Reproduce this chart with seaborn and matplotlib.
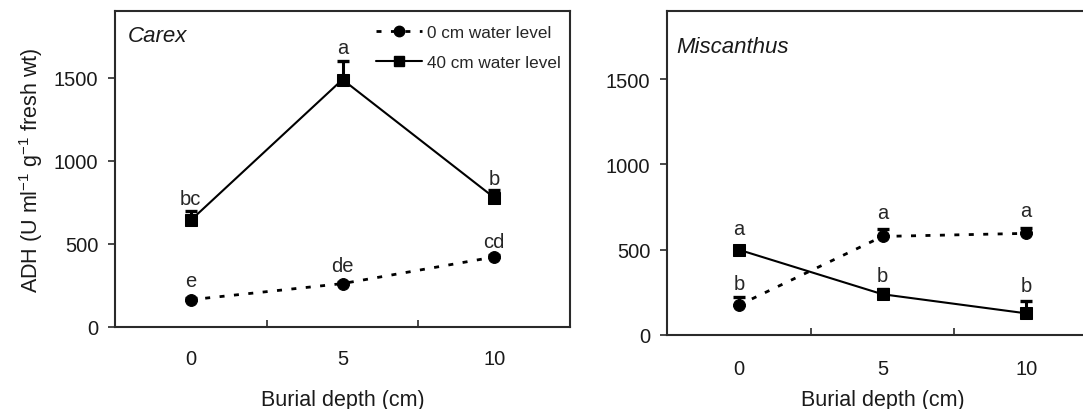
import numpy as np
import pandas as pd
import matplotlib
matplotlib.use("Agg")
import matplotlib.pyplot as plt
import seaborn as sns
from matplotlib.lines import Line2D

sns.set_style("ticks")
plt.rcParams['font.family'] = ['Liberation Sans', 'DejaVu Sans']
plt.rcParams['mathtext.fontset'] = 'custom'
plt.rcParams['mathtext.rm'] = 'Liberation Sans'
plt.rcParams['mathtext.it'] = 'Liberation Sans:italic'

# ---- data ----
depth = [0, 5, 10]
series_names = ["0 cm water level", "40 cm water level"]

carex_0cm = [164, 261, 421]
carex_0cm_err = [12, 12, 14]
carex_40cm = [642, 1488, 778]
carex_40cm_err = [56, 110, 46]
carex_letters_0cm = ["e", "de", "cd"]
carex_letters_40cm = ["bc", "a", "b"]

misc_0cm = [175, 578, 596]
misc_0cm_err = [49, 44, 29]
misc_40cm = [500, 239, 127]
misc_40cm_err = [24, 30, 73]
misc_letters_0cm = ["b", "a", "a"]
misc_letters_40cm = ["a", "b", "b"]

yticks = [0, 500, 1000, 1500]
xticks = [0, 5, 10]

fig = plt.figure(figsize=(10.83, 4.10), dpi=100)
ax1 = fig.add_axes([115/1083, 82/410, 455/1083, 316/410])
ax2 = fig.add_axes([667/1083, 74/410, 431/1083, 324/410])

dash = (0, (1.8, 3.4))
SPINE = "#2a2a2a"


def draw(ax, v0, e0, v40, e40, l0, l40, title, title_xy, off0, off40,
         xlabel_y, xpad):
    df = pd.DataFrame({
        "depth": depth * 2,
        "adh": v0 + v40,
        "series": [series_names[0]] * 3 + [series_names[1]] * 3,
    })
    sns.lineplot(data=df[df.series == series_names[0]], x="depth", y="adh", ax=ax,
                 color="black", linestyle=":", marker="o", markersize=8.5,
                 markeredgecolor="black", linewidth=2.0, legend=False)
    sns.lineplot(data=df[df.series == series_names[1]], x="depth", y="adh", ax=ax,
                 color="black", linestyle="-", marker="s", markersize=8.5,
                 markeredgecolor="black", linewidth=1.5, legend=False)
    ax.lines[0].set_linestyle(dash)
    for v, e in ((v0, e0), (v40, e40)):
        ax.errorbar(depth, v, yerr=[np.zeros(3), e], fmt="none", ecolor="black",
                    elinewidth=2.2, capsize=4.5, capthick=2.4, zorder=1)
    for x, y, e, t, o in zip(depth, v0, e0, l0, off0):
        ax.text(x, y + e + o, t, ha="center", va="baseline", fontsize=14.5)
    for x, y, e, t, o in zip(depth, v40, e40, l40, off40):
        ax.text(x, y + e + o, t, ha="center", va="baseline", fontsize=14.5)
    ax.set_xlim(-2.5, 12.5)
    ax.set_ylim(0, 1900)
    ax.set_xticks(xticks)
    ax.set_yticks(yticks)
    ax.set_xticks([2.5, 7.5], minor=True)
    ax.tick_params(axis="x", which="major", length=0, pad=xpad, labelsize=14.5,
                   colors="#1a1a1a")
    ax.tick_params(axis="x", which="minor", direction="in", length=5, width=1.2,
                   color=SPINE)
    ax.tick_params(axis="y", which="major", direction="out", length=5, width=1.2,
                   labelsize=14.5, pad=7, color=SPINE, labelcolor="#1a1a1a")
    for s in ax.spines.values():
        s.set_linewidth(1.5)
        s.set_color(SPINE)
    ax.set_xlabel("Burial depth (cm)", fontsize=15.5, color="#1a1a1a")
    ax.xaxis.set_label_coords(0.5, xlabel_y)
    ax.set_ylabel("")
    ax.text(title_xy[0], title_xy[1], title, transform=ax.transAxes, style="italic",
            fontsize=16, ha="left", va="top", color="#1a1a1a")


draw(ax1, carex_0cm, carex_0cm_err, carex_40cm, carex_40cm_err,
     carex_letters_0cm, carex_letters_40cm, "Carex", (0.029, 0.955),
     [71, 64, 47], [43, 47, 37], -0.196, 16)
draw(ax2, misc_0cm, misc_0cm_err, misc_40cm, misc_40cm_err,
     misc_letters_0cm, misc_letters_40cm, "Miscanthus", (0.022, 0.922),
     [45, 63, 75], [68, 49, 59], -0.167, 17.5)

ax1.set_ylabel(r"ADH (U ml$^{-1}$ g$^{-1}$ fresh wt)", fontsize=15.5, color="#1a1a1a")
ax1.yaxis.set_label_coords(-0.153, 0.5)

handles = [
    Line2D([0], [0], color="black", linestyle=dash, linewidth=2.0, marker="o",
           markersize=7.5),
    Line2D([0], [0], color="black", linestyle="-", linewidth=1.5, marker="s",
           markersize=7.5),
]
ax1.legend(handles, series_names, loc="upper left", frameon=False, fontsize=12.3,
           handlelength=2.7, handletextpad=0.3, borderpad=0, borderaxespad=0,
           labelspacing=0.85, bbox_to_anchor=(0.574, 0.955))

fig.savefig("out.png", dpi=100)
